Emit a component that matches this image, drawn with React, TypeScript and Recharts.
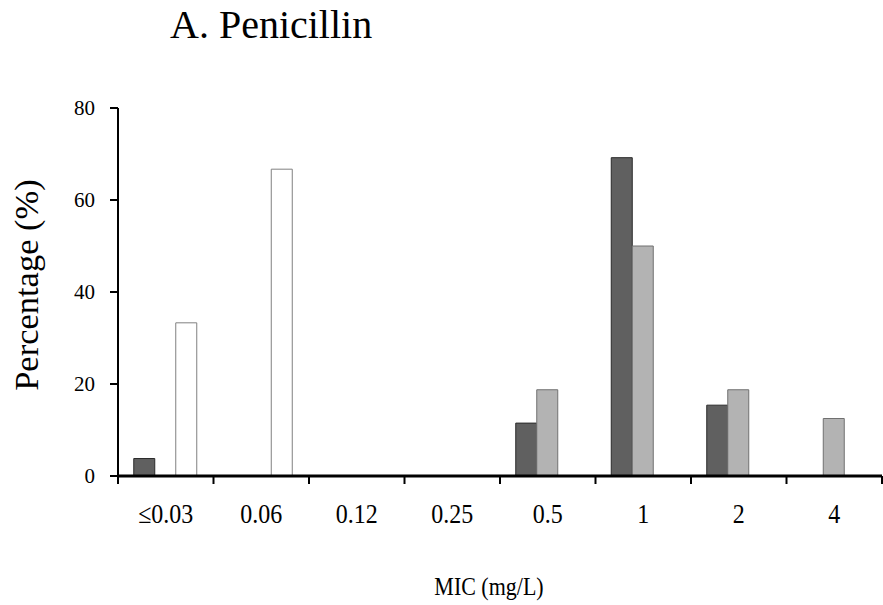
import { BarChart, Bar, XAxis, YAxis, Label } from 'recharts'

const categories = ['≤0.03', '0.06', '0.12', '0.25', '0.5', '1', '2', '4']
const darkValues = [3.8, 0, 0, 0, 11.5, 69.2, 15.4, 0]
const lightValues = [0, 0, 0, 0, 18.75, 50, 18.75, 12.5]
const whiteValues = [33.3, 66.7, 0, 0, 0, 0, 0, 0]
const yTicks = [0, 20, 40, 60, 80]

const data = categories.map((name, i) => ({
  name,
  dark: darkValues[i],
  light: lightValues[i],
  white: whiteValues[i],
}))

const serif = '"Liberation Serif", "Times New Roman", serif'
const WIDTH = 883
const HEIGHT = 605
const MARGIN = { top: 108, right: 1, bottom: 0, left: 58 }
const BAND = (WIDTH - MARGIN.left - 60 - MARGIN.right) / categories.length

function XTick(props: any) {
  const { x, y, payload, index } = props
  const left = x - BAND / 2
  return (
    <g>
      <line x1={left} x2={left} y1={y} y2={y + 8} stroke="#000" strokeWidth={2} />
      {index === categories.length - 1 && (
        <line x1={left + BAND} x2={left + BAND} y1={y} y2={y + 8} stroke="#000" strokeWidth={2} />
      )}
      <text
        transform={`translate(${x}, ${y + 47}) scale(1, 1.15)`}
        textAnchor="middle"
        fontSize={24}
        fontFamily={serif}
        fill="#000"
      >
        {payload.value}
      </text>
    </g>
  )
}

export default function App() {
  return (
    <div style={{ position: 'absolute', left: 0, top: 0, width: WIDTH, height: HEIGHT, background: '#fff' }}>
      <div
        style={{
          position: 'absolute',
          left: 170,
          top: 5,
          fontSize: 40,
          lineHeight: '40px',
          fontFamily: serif,
          color: '#000',
          whiteSpace: 'nowrap',
        }}
      >
        A. Penicillin
      </div>
      <BarChart
        width={WIDTH}
        height={HEIGHT}
        data={data}
        margin={MARGIN}
        barCategoryGap="16.5%"
        barGap={0}
      >
        <XAxis
          dataKey="name"
          height={129}
          interval={0}
          tickLine={false}
          tickSize={0}
          tickMargin={0}
          tick={<XTick />}
          axisLine={{ stroke: '#000', strokeWidth: 3 }}
        >
          <Label
            content={() => (
              <text
                transform="translate(489, 595) scale(1, 1.15)"
                textAnchor="middle"
                fontSize={22}
                fontFamily={serif}
                fill="#000"
              >
                MIC (mg/L)
              </text>
            )}
          />
        </XAxis>
        <YAxis
          width={60}
          domain={[0, 80]}
          ticks={yTicks}
          interval={0}
          tickSize={8}
          tickMargin={15}
          axisLine={{ stroke: '#000', strokeWidth: 2 }}
          tickLine={{ stroke: '#000', strokeWidth: 2 }}
          tick={{ fontSize: 21, fontFamily: serif, fill: '#000' }}
        >
          <Label
            content={() => (
              <text
                x={38}
                y={285}
                transform="rotate(-90, 38, 285)"
                textAnchor="middle"
                fontSize={34.5}
                fontFamily={serif}
                fill="#000"
              >
                Percentage (%)
              </text>
            )}
          />
        </YAxis>
        <Bar dataKey="dark" fill="#606060" stroke="#2a2a2a" strokeWidth={1} isAnimationActive={false} />
        <Bar dataKey="light" fill="#b3b3b3" stroke="#707070" strokeWidth={1} isAnimationActive={false} />
        <Bar dataKey="white" fill="#ffffff" stroke="#808080" strokeWidth={1} isAnimationActive={false} />
      </BarChart>
    </div>
  )
}
